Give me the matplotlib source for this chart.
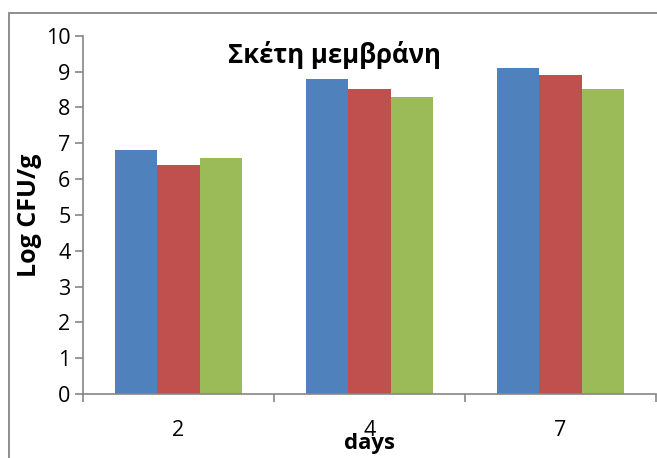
import matplotlib
matplotlib.use("Agg")
import matplotlib.pyplot as plt
import numpy as np
from matplotlib.patches import Rectangle

plt.rcParams['font.family'] = ['Open Sans', 'Noto Sans', 'DejaVu Sans']

# days of measurement and log counts for the three samples
days = ['2', '4', '7']
series_a = [6.8, 8.8, 9.1]
series_b = [6.4, 8.5, 8.9]
series_c = [6.6, 8.3, 8.5]
colors = ['#4F81BD', '#C0504D', '#9BBB59']

fig = plt.figure(figsize=(6.57, 4.58), dpi=100)
ax = fig.add_axes([0.1263, 0.1397, 0.8722, 0.7823])

x = np.arange(len(days))
w = 0.222
for i, (vals, c) in enumerate(zip([series_a, series_b, series_c], colors)):
    ax.bar(x + (i - 1) * w, vals, width=w, color=c, edgecolor='none')

ax.set_xlim(-0.5, len(days) - 0.5)
ax.set_ylim(0, 10)
ax.set_yticks(range(0, 11))
ax.set_xticks(x)
ax.set_xticklabels(days, fontsize=15.5)
ax.set_xticks(np.arange(-0.5, len(days)), minor=True)
ax.tick_params(axis='x', which='major', length=0, pad=19)
ax.tick_params(axis='x', which='minor', length=6, color='#868686', width=1.2)
ax.tick_params(axis='y', length=6, color='#868686', width=1.2, labelsize=15.5, pad=3)

for s in ['top', 'right']:
    ax.spines[s].set_visible(False)
for s in ['left', 'bottom']:
    ax.spines[s].set_color('#868686')
    ax.spines[s].set_linewidth(1.2)

ax.set_ylabel('Log CFU/g', fontsize=18, fontweight='bold')
ax.yaxis.set_label_coords(-0.0716, 0.5)
ax.set_xlabel('days', fontsize=16, fontweight='bold')
ax.xaxis.set_label_coords(0.5, -0.108)
ax.text(0.438, 0.945, 'Σκέτη μεμβράνη', transform=ax.transAxes, ha='center',
        va='center', fontsize=18.5, fontweight='bold')

# chart area border
fig.patches.append(Rectangle((0.0137, -0.05), 1.05, 1.0216, transform=fig.transFigure,
                             fill=False, edgecolor='#868686', linewidth=1.3))

fig.savefig('out.png', dpi=100)
